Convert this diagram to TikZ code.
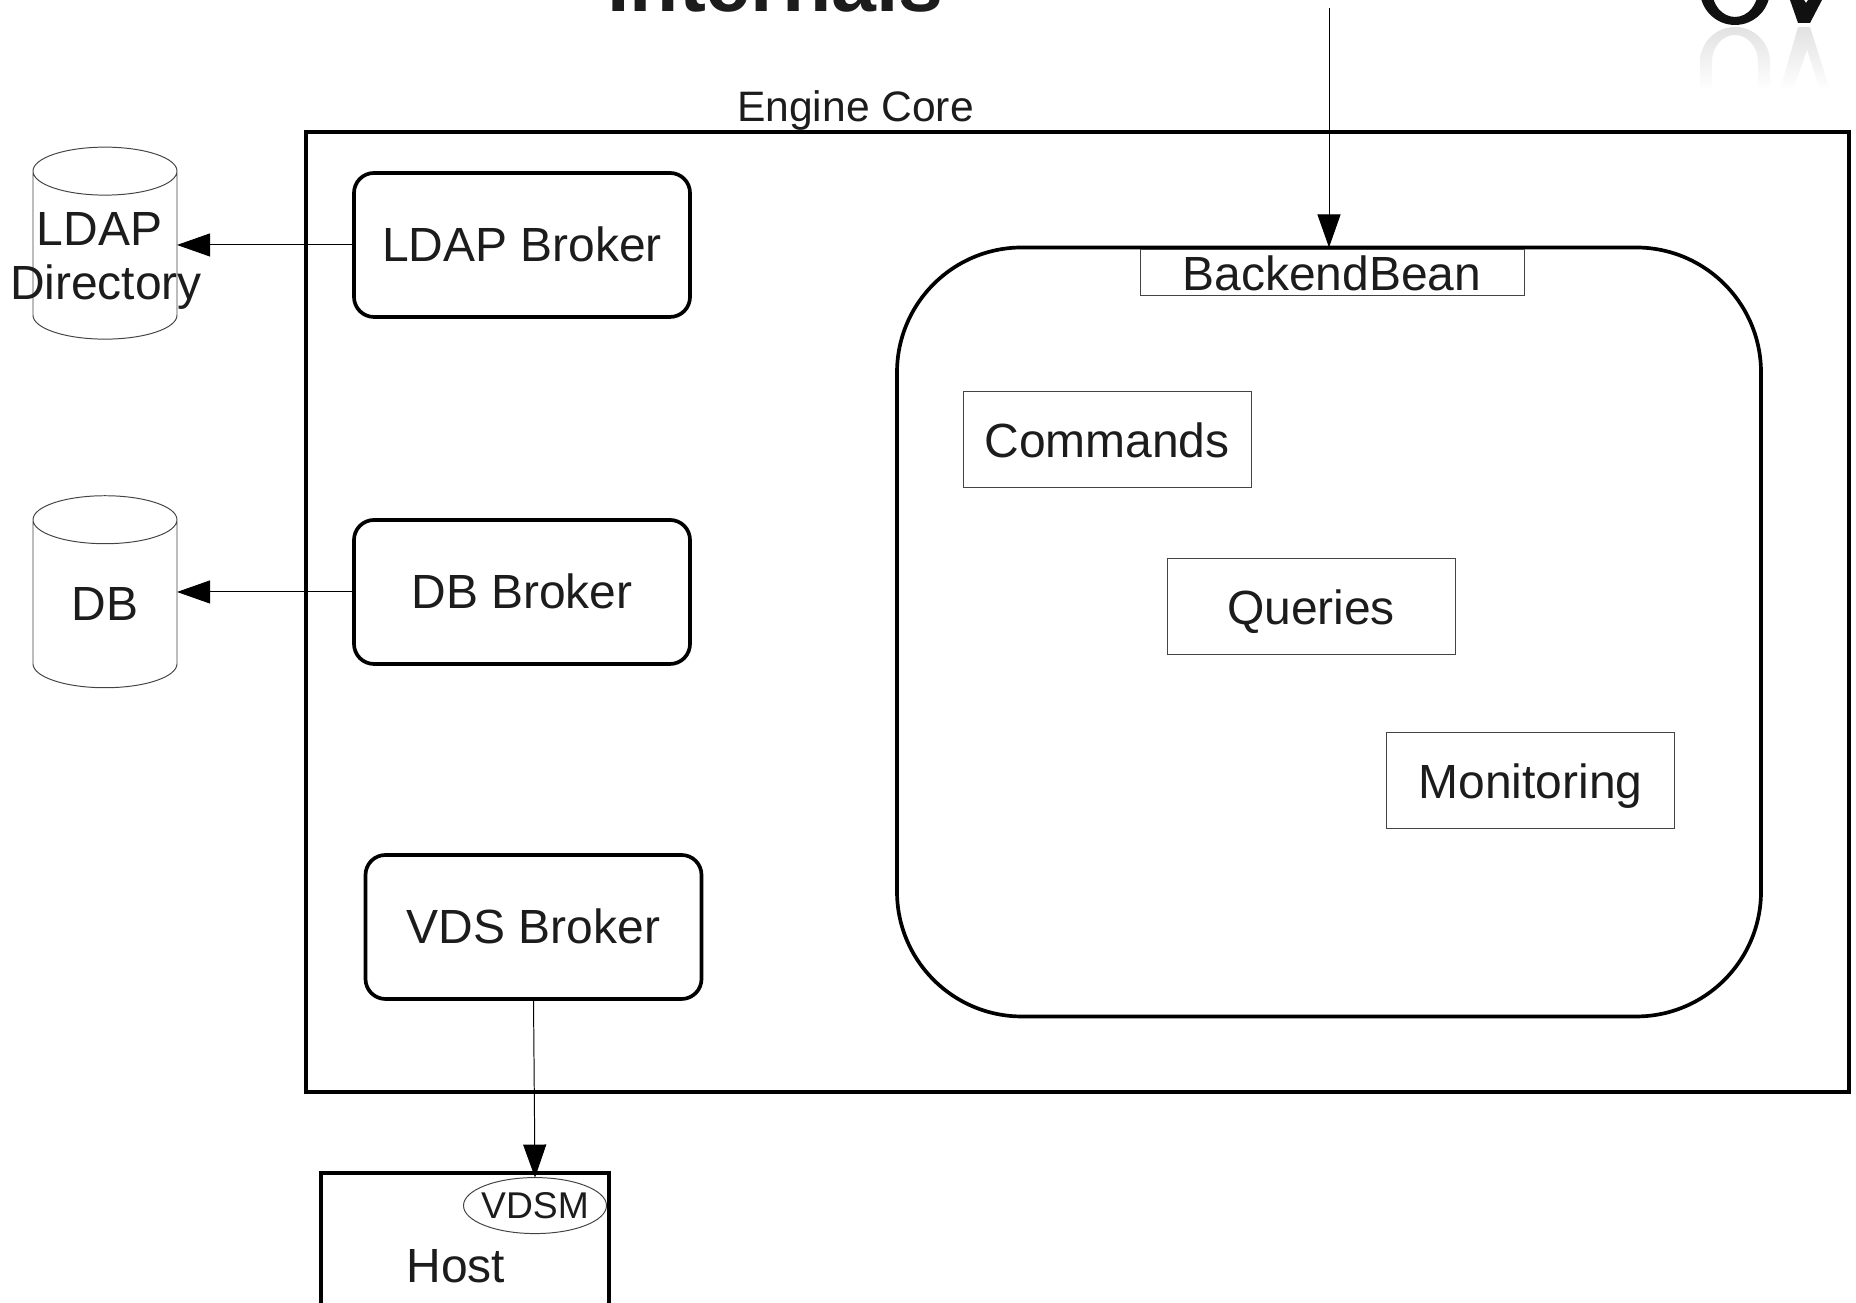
\documentclass[tikz,border=0pt]{standalone}
\usepackage{fontspec}
\setmainfont{Liberation Sans}
\usetikzlibrary{arrows.meta,shapes.geometric}
\definecolor{textink}{HTML}{1C1C1C}
\definecolor{logoink}{HTML}{111111}
\definecolor{logoglow}{HTML}{E2E2E2}
\definecolor{thinline}{HTML}{444444}

\begin{document}
\begin{tikzpicture}[>={Triangle[length=.33cm,width=.23cm]},line width=.28pt]
  \tikzset{every node/.style={text=textink,outer sep=0pt,inner sep=0pt,align=center,font=\fontsize{13.65}{15.5}\selectfont}}
  \tikzset{heavy/.style={draw,line width=1.05pt}}
  \tikzset{broker/.style={heavy,rectangle,rounded corners=.2cm,text depth=.02cm,minimum width=3.36cm,minimum height=1.44cm}}
  \tikzset{part/.style={draw=thinline,rectangle,text depth=0pt,minimum width=2.88cm,minimum height=.96cm}}
  \tikzset{store/.style={draw=thinline,cylinder,shape border rotate=90,aspect=.72,minimum width=1.44cm,minimum height=1.92cm}}
  \useasboundingbox (0,0) rectangle (18.56,13.03);
  \node[font=\fontsize{22.95}{24}\selectfont\bfseries,anchor=base] (title) at (7.755, 12.91) {Internals};
  \node[font=\fontsize{12.12}{14}\selectfont,anchor=base] (corelabel) at (8.555, 11.81) {Engine Core};
  \node[heavy,rectangle,minimum width=15.43cm,minimum height=9.6cm] (core) at (10.775, 6.91) {};
  \node[store] (ldap) at (1.05, 10.476) {\phantom{DB}};
  \node (ldaplabel) at (1.06, 10.42) {LDAP\rule{.13cm}{0pt}\\Directory};
  \node[store] (db) at (1.05, 6.99) {DB};
  \node[broker] (ldapbroker) at (5.22, 10.58) {LDAP Broker};
  \node[broker] (dbbroker) at (5.22, 7.11) {DB Broker};
  \node[broker] (vdsbroker) at (5.335, 3.76) {VDS Broker};
  \node[heavy,rectangle,rounded corners=1.25cm,minimum width=8.64cm,minimum height=7.69cm] (backend) at (13.29, 6.71) {};
  \node[draw=thinline,rectangle,minimum width=3.84cm,minimum height=.46cm] (bean) at (13.32, 10.30) {BackendBean};
  \node[part] (commands) at (11.07, 8.63) {Commands};
  \node[part] (queries) at (13.11, 6.96) {Queries};
  \node[part] (monitoring) at (15.305, 5.22) {Monitoring};
  \node[heavy,rectangle,minimum width=2.88cm,minimum height=1.33cm] (host) at (4.65, 0.635) {};
  \node[anchor=base] (hostlabel) at (4.557, 0.20) {Host};
  \node[draw=thinline,ellipse,inner sep=-.04cm,minimum width=1.43cm,minimum height=.56cm,font=\fontsize{10.6}{12}\selectfont] (vdsm) at (5.35, 0.974) {VDSM};
  \coordinate (entry) at (13.29, 12.95);
  \path[->] (entry) edge (backend.north);
  \path[->] (ldapbroker.west) edge (ldapbroker.west -| ldap.east);
  \path[->] (dbbroker.west) edge (dbbroker.west -| db.east);
  \path[->] (vdsbroker.south) edge (vdsm.north);
  \fill[logoink,even odd rule] (17.35, 13.13) ellipse (.35 and .35) (17.35, 13.13) ellipse (.23 and .27);
  \fill[logoink] (17.90, 13.03) -- (17.98, 12.80) -- (18.10, 12.80) -- (18.22, 13.03) -- (18.08, 13.03) -- (18.06, 13.00) -- (18.04, 13.03) -- cycle;
  \shade[top color=logoglow,bottom color=white] (17.00, 12.13) -- (17.00, 12.41) arc[start angle=180,end angle=0,x radius=.35,y radius=.35] -- (17.70, 12.13) -- (17.58, 12.13) -- (17.58, 12.41) arc[start angle=0,end angle=180,x radius=.23,y radius=.27] -- (17.12, 12.13) -- cycle;
  \shade[top color=logoglow,bottom color=white] (17.98, 12.76) -- (18.10, 12.76) -- (18.30, 12.13) -- (18.20, 12.13) -- (18.07, 12.53) -- (17.93, 12.13) -- (17.80, 12.13) -- cycle;
\end{tikzpicture}
\end{document}
